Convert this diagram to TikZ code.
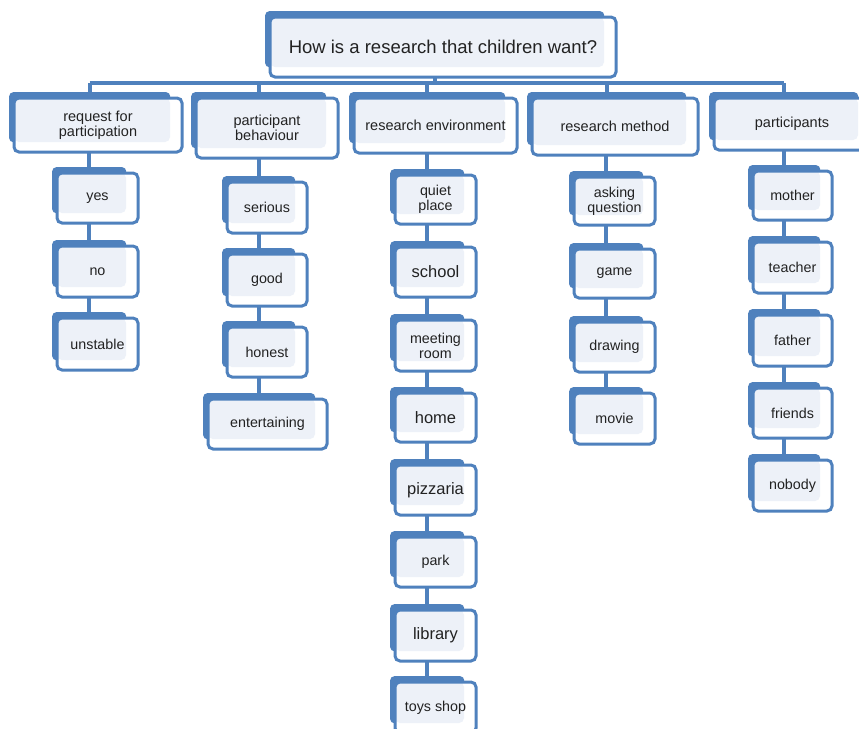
\documentclass[tikz,border=0pt]{standalone}
\usepackage{fontspec}
\setmainfont{Liberation Sans}
\usetikzlibrary{backgrounds}
\definecolor{bblue}{HTML}{4F81BD}
\definecolor{binner}{HTML}{EDF1F8}
\definecolor{btext}{HTML}{222222}
\tikzset{
  backbox/.style={fill=bblue, rounded corners=4pt, inner sep=0pt, draw=none},
  frontbox/.style={draw=bblue, line width=3pt, fill=white, rounded corners=5pt,
    inner sep=0pt, align=center, text=btext, font=\fontsize{14.3}{15}\selectfont,
    path picture={\fill[binner] (path picture bounding box.north west) rectangle
      ([shift={(-12,-10)}]path picture bounding box.south east);}},
  conn/.style={draw=bblue, line width=3.6pt},
  big/.style={font=\fontsize{16.5}{18}\selectfont},
  lvl/.style={font=\fontsize{14.5}{15}\selectfont},
  ttl/.style={font=\fontsize{18.5}{20}\selectfont},
}
\newcommand\mybox[7][]{%
  \node[backbox, anchor=north west, minimum width={#5-#3-7}, minimum height={#6-#4-4}] (#2-b) at (#3-5,#4-6) {};
  \node[frontbox, #1, minimum width={#5-#3}, minimum height={#6-#4}] (#2) at ({(#3+#5)/2},{(#4+#6)/2}) {#7};
}
\begin{document}
\begin{tikzpicture}[x=1pt,y=-1pt]
\useasboundingbox (0,0) rectangle (859,728);
\clip (0,0) rectangle (859,728);
% title
\mybox[ttl]{title}{270}{17}{616}{77}{How is a research that children want?}
% level 1
\mybox[lvl]{la}{14}{98}{182}{152}{request for\\participation}
\mybox[lvl]{lb}{196}{98}{338}{158}{participant\\behaviour}
\mybox[lvl]{lc}{354}{98}{517}{153}{research environment}
\mybox[lvl]{ld}{532}{98}{698}{155}{research method}
\mybox[lvl]{le}{714}{98}{870}{150}{participants}
% column a
\mybox{yes}{57}{173}{138}{223}{yes}
\mybox{no}{57}{246}{138}{297}{no}
\mybox{unstable}{57}{318}{138}{370}{unstable}
% column b
\mybox{serious}{227}{182}{307}{233}{serious}
\mybox{good}{227}{254}{307}{306}{good}
\mybox{honest}{227}{327}{307}{377}{honest}
\mybox{entertaining}{208}{399}{327}{449}{entertaining}
% column c
\mybox{quiet}{395}{175}{476}{224}{quiet\\place}
\mybox[big]{school}{395}{247}{476}{297}{school}
\mybox{meeting}{395}{320}{476}{371}{meeting\\room}
\mybox[big]{home}{395}{393}{476}{442}{home}
\mybox[big]{pizzaria}{395}{465}{476}{515}{pizzaria}
\mybox{park}{395}{537}{476}{587}{park}
\mybox[big]{library}{395}{610}{476}{661}{library}
\mybox{toys}{395}{682}{476}{733}{toys shop}
% column d
\mybox{asking}{574}{177}{655}{225}{asking\\question}
\mybox{game}{574}{249}{655}{298}{game}
\mybox{drawing}{574}{322}{655}{372}{drawing}
\mybox{movie}{574}{393}{655}{444}{movie}
% column e
\mybox{mother}{753}{171}{832}{220}{mother}
\mybox{teacher}{753}{242}{832}{293}{teacher}
\mybox{father}{753}{315}{832}{366}{father}
\mybox{friends}{753}{388}{832}{438}{friends}
\mybox{nobody}{753}{460}{832}{511}{nobody}
% connectors
\begin{scope}[on background layer]
  \coordinate (bus) at (0,83);
  \draw[conn] (title-b.center) -- (title-b.center |- bus);
  \draw[conn] (la-b.center |- bus) -- (le-b.center |- bus);
  \foreach \n in {la,lb,lc,ld,le} {\draw[conn] (\n-b.center |- bus) -- (\n-b.center);}
  \draw[conn] (yes-b.center |- la-b.center) -- (unstable-b.center);
  \draw[conn] (serious-b.center |- lb-b.center) -- (serious-b.center |- entertaining-b.center);
  \draw[conn] (quiet-b.center |- lc-b.center) -- (toys-b.center);
  \draw[conn] (asking-b.center |- ld-b.center) -- (movie-b.center);
  \draw[conn] (mother-b.center |- le-b.center) -- (nobody-b.center);
\end{scope}
\end{tikzpicture}
\end{document}
